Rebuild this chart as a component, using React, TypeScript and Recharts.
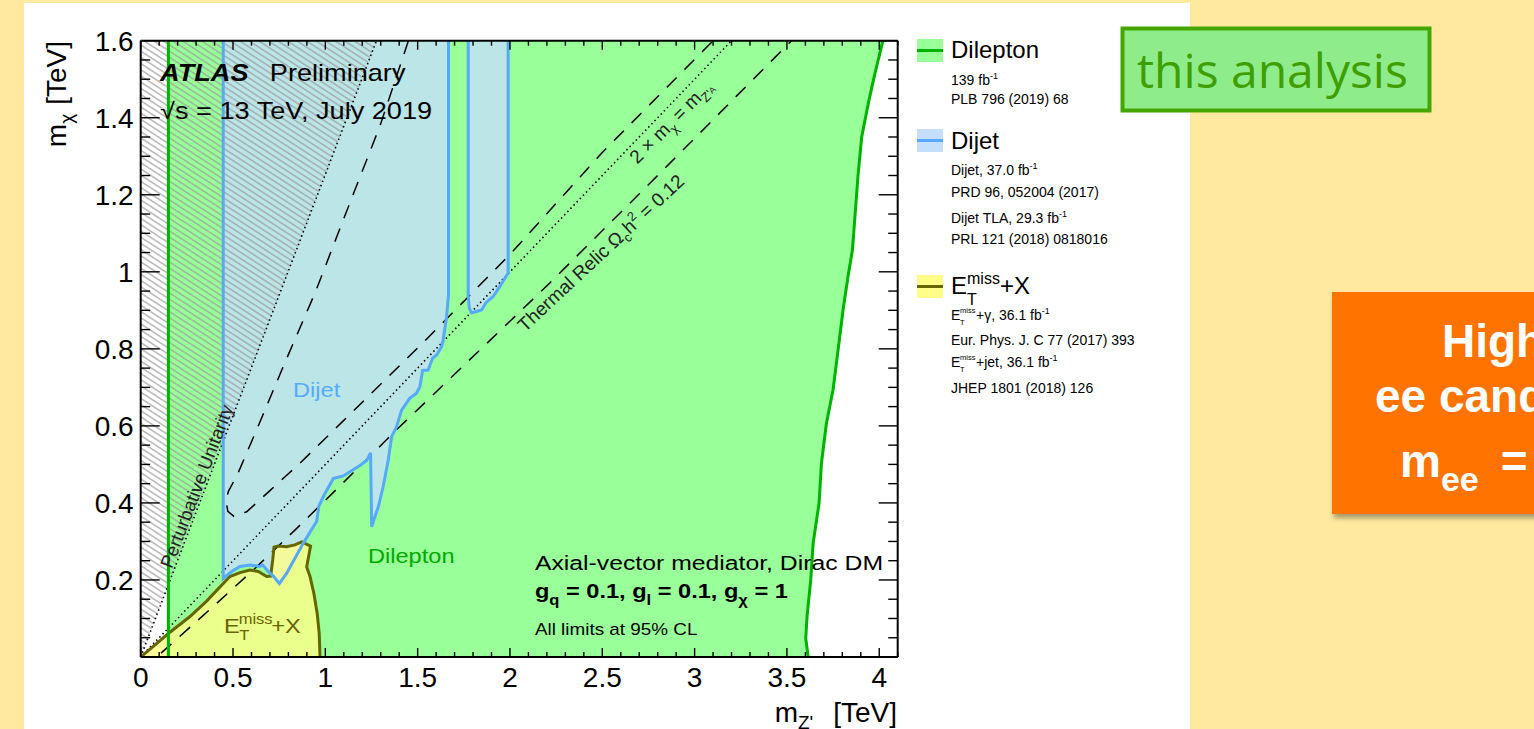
import React from "react";
import { ComposedChart, Area, Line, XAxis, YAxis, ReferenceDot } from "recharts";

type Pt = [number, number];

const FONT = '"Liberation Sans", Arial, Helvetica, sans-serif';
const X_MAX = 4.1;
const Y_MAX = 1.6;
const SX = 1.18; // the plot text is drawn slightly wide

const xLabels = [0, 0.5, 1, 1.5, 2, 2.5, 3, 3.5, 4];
const yLabels = [0.2, 0.4, 0.6, 0.8, 1, 1.2, 1.4, 1.6];
const xTicks = Array.from({ length: 42 }, (_, i) => i / 10);
const yTicks = Array.from({ length: 33 }, (_, i) => i / 20);

// dilepton: vertical low-mass edge and the high-mass reach (m_Z', m_chi) in TeV
const dileptonLowEdge: Pt[] = [[0.15, 0], [0.15, 1.6]];
const dileptonHighEdge: Pt[] = [
  [3.615, 0], [3.602, 0.048], [3.609, 0.105], [3.629, 0.2], [3.642, 0.295], [3.674, 0.399],
  [3.687, 0.503], [3.714, 0.607], [3.75, 0.694], [3.777, 0.797], [3.804, 0.901], [3.831, 0.988],
  [3.855, 1.057], [3.885, 1.25], [3.905, 1.35], [3.941, 1.438], [3.977, 1.516], [4.02, 1.6],
];

// dijet contours, outline order
const dijetLowMass: Pt[] = [
  [0.447, 1.6], [0.447, 0.204], [0.493, 0.222], [0.538, 0.235], [0.592, 0.239], [0.646, 0.235],
  [0.66, 0.239], [0.691, 0.222], [0.718, 0.21], [0.751, 0.191], [0.79, 0.217], [0.845, 0.265],
  [0.88, 0.295], [0.908, 0.317], [0.935, 0.338], [0.953, 0.352], [0.965, 0.392], [0.995, 0.422],
  [1.043, 0.463], [1.097, 0.47], [1.187, 0.497], [1.224, 0.51], [1.245, 0.53], [1.251, 0.338],
  [1.262, 0.355], [1.287, 0.39], [1.313, 0.442], [1.341, 0.512], [1.359, 0.572], [1.386, 0.598],
  [1.413, 0.641], [1.458, 0.672], [1.494, 0.685], [1.512, 0.702], [1.527, 0.744], [1.557, 0.745],
  [1.581, 0.776], [1.603, 0.784], [1.63, 0.806], [1.638, 0.823], [1.657, 0.884], [1.667, 0.94],
  [1.667, 1.6],
];
const dijetHighMass: Pt[] = [
  [1.774, 1.6], [1.774, 0.936], [1.78, 0.905], [1.792, 0.893], [1.846, 0.901], [1.87, 0.92],
  [1.909, 0.936], [1.945, 0.962], [1.99, 0.997], [1.99, 1.6],
];

// ETmiss+X contour
const etmiss: Pt[] = [
  [0, 0], [0.15, 0.061], [0.267, 0.105], [0.357, 0.145], [0.483, 0.209], [0.538, 0.219],
  [0.592, 0.226], [0.637, 0.222], [0.682, 0.209], [0.704, 0.21], [0.715, 0.252], [0.722, 0.285],
  [0.745, 0.288], [0.79, 0.286], [0.835, 0.291], [0.872, 0.299], [0.92, 0.288], [0.899, 0.234],
  [0.917, 0.209], [0.938, 0.165], [0.956, 0.113], [0.967, 0.061], [0.971, 0],
];

// thermal relic curves and reference lines
const relicUpper: Pt[] = [
  [1.45, 1.6], [1.296, 1.379], [1.15, 1.2], [0.944, 0.945], [0.772, 0.754], [0.628, 0.59],
  [0.525, 0.475], [0.475, 0.43], [0.462, 0.405], [0.472, 0.378], [0.505, 0.365], [0.574, 0.377],
  [0.7, 0.432], [0.862, 0.503], [1.097, 0.613], [1.548, 0.825], [2.0, 1.045], [2.5, 1.31], [3.1, 1.6],
];
const relicLower: Pt[] = [
  [0.11, 0.01], [0.411, 0.139], [0.628, 0.234], [0.845, 0.334], [1.079, 0.444], [1.386, 0.59],
  [1.8, 0.78], [2.216, 0.971], [2.8, 1.25], [3.525, 1.6],
];
const halfMass: Pt[] = [[0, 0], [3.2, 1.6]];
const unitarity: Pt[] = [[0, 0], [1.277, 1.6]];

const asPoints = (pts: Pt[]) => pts.map(([x, y]) => ({ x, y }));
const bandAbove = (pts: Pt[]) => pts.map(([x, y]) => ({ x, band: [y, Y_MAX] }));
const bandBelow = (pts: Pt[]) => pts.map(([x, y]) => ({ x, band: [0, y] }));

const isLabel = (list: number[], v: number) => list.some((l) => Math.abs(l - v) < 1e-6);

// tick props arrive with x/y on the axis line (tickSize and tickMargin are 0)
const XTick = ({ x, y, payload, dir, labelled }: any) => {
  const v = payload.value;
  const major = isLabel(xLabels, v);
  return (
    <g>
      <line x1={x} x2={x} y1={y} y2={y + dir * (major ? 9 : 5)} stroke="#000" strokeWidth={1.4} />
      {labelled && major && (
        <text x={x} y={y + 30} textAnchor="middle" fontSize={28} fill="#000">{String(v)}</text>
      )}
    </g>
  );
};

const YTick = ({ x, y, payload, dir, labelled }: any) => {
  const v = payload.value;
  const major = Math.abs(v * 5 - Math.round(v * 5)) < 1e-6;
  return (
    <g>
      <line x1={x} x2={x + dir * (major ? 19 : 9.5)} y1={y} y2={y} stroke="#000" strokeWidth={1.4} />
      {labelled && isLabel(yLabels, v) && (
        <text x={x - 7} y={y + 10} textAnchor="end" fontSize={28} fill="#000">{String(+v.toFixed(1))}</text>
      )}
    </g>
  );
};

const note = (x: number, y: number, content: React.ReactNode) => (
  <ReferenceDot
    x={x}
    y={y}
    r={0}
    ifOverflow="visible"
    shape={(p: any) => <g transform={`translate(${p.cx},${p.cy})`} style={{ whiteSpace: "pre" }}>{content}</g>}
  />
);

const frame = { stroke: "#000", strokeWidth: 2 };

const LimitPlot = () => (
  <ComposedChart width={1190} height={729} margin={{ top: 39.7, right: 291.3, bottom: 71, left: 139.7 }}>
    <defs>
      <pattern id="unitarityHatch" patternUnits="userSpaceOnUse" width={10} height={5.2} patternTransform="rotate(33)">
        <line x1={0} y1={2.6} x2={10} y2={2.6} stroke="#999" strokeWidth={1.1} />
      </pattern>
    </defs>

    <Area data={bandAbove([dileptonLowEdge[0], ...dileptonHighEdge])} dataKey="band" type="linear"
      stroke="none" fill="#99ff99" fillOpacity={1} dot={false} activeDot={false} isAnimationActive={false} />
    <Area data={bandAbove(dijetLowMass)} dataKey="band" type="linear"
      stroke="none" fill="#bce5e8" fillOpacity={1} dot={false} activeDot={false} isAnimationActive={false} />
    <Area data={bandAbove(dijetHighMass)} dataKey="band" type="linear"
      stroke="none" fill="#bce5e8" fillOpacity={1} dot={false} activeDot={false} isAnimationActive={false} />
    <Area data={bandAbove(unitarity)} dataKey="band" type="linear"
      stroke="none" fill="url(#unitarityHatch)" fillOpacity={1} dot={false} activeDot={false} isAnimationActive={false} />
    <Area data={bandBelow(etmiss)} dataKey="band" type="linear"
      stroke="none" fill="#ffff88" fillOpacity={0.8} dot={false} activeDot={false} isAnimationActive={false} />

    <Line data={asPoints(relicUpper)} dataKey="y" type="linear" stroke="#000" strokeWidth={1.5}
      strokeDasharray="14 11" dot={false} activeDot={false} isAnimationActive={false} />
    <Line data={asPoints(relicLower)} dataKey="y" type="linear" stroke="#000" strokeWidth={1.5}
      strokeDasharray="14 11" dot={false} activeDot={false} isAnimationActive={false} />
    <Line data={asPoints(halfMass)} dataKey="y" type="linear" stroke="#000" strokeWidth={1.6}
      strokeDasharray="1.5 3" dot={false} activeDot={false} isAnimationActive={false} />
    <Line data={asPoints(unitarity)} dataKey="y" type="linear" stroke="#000" strokeWidth={1.6}
      strokeDasharray="1.5 3" dot={false} activeDot={false} isAnimationActive={false} />

    <Line data={asPoints(etmiss)} dataKey="y" type="linear" stroke="#666600" strokeWidth={3}
      dot={false} activeDot={false} isAnimationActive={false} />
    <Line data={asPoints(dijetLowMass)} dataKey="y" type="linear" stroke="#57a8ff" strokeWidth={3}
      dot={false} activeDot={false} isAnimationActive={false} />
    <Line data={asPoints(dijetHighMass)} dataKey="y" type="linear" stroke="#57a8ff" strokeWidth={3}
      dot={false} activeDot={false} isAnimationActive={false} />
    <Line data={asPoints(dileptonLowEdge)} dataKey="y" type="linear" stroke="#00b300" strokeWidth={3}
      dot={false} activeDot={false} isAnimationActive={false} />
    <Line data={asPoints(dileptonHighEdge)} dataKey="y" type="linear" stroke="#00b300" strokeWidth={3}
      dot={false} activeDot={false} isAnimationActive={false} />

    {/* keeps the top and right axes tied to the same range */}
    <Line data={[{ x: 0, y: 0 }, { x: X_MAX, y: Y_MAX }]} xAxisId="top" yAxisId="right" dataKey="y"
      stroke="none" dot={false} activeDot={false} isAnimationActive={false} />

    <XAxis xAxisId={0} type="number" dataKey="x" domain={[0, X_MAX]} allowDataOverflow ticks={xTicks}
      interval={0} height={1} tickSize={0} tickMargin={0} tickLine={false} axisLine={frame}
      tick={(p: any) => <XTick {...p} dir={-1} labelled />} />
    <XAxis xAxisId="top" orientation="top" type="number" dataKey="x" domain={[0, X_MAX]} allowDataOverflow
      ticks={xTicks} interval={0} height={1} tickSize={0} tickMargin={0} tickLine={false} axisLine={frame}
      tick={(p: any) => <XTick {...p} dir={1} />} />
    <YAxis yAxisId={0} type="number" domain={[0, Y_MAX]} allowDataOverflow ticks={yTicks} interval={0}
      width={1} tickSize={0} tickMargin={0} tickLine={false} axisLine={frame}
      tick={(p: any) => <YTick {...p} dir={1} labelled />} />
    <YAxis yAxisId="right" orientation="right" type="number" domain={[0, Y_MAX]} allowDataOverflow
      ticks={yTicks} interval={0} width={1} tickSize={0} tickMargin={0} tickLine={false} axisLine={frame}
      tick={(p: any) => <YTick {...p} dir={-1} />} />

    {note(0.105, 1.496,
      <g transform={`scale(${SX},1)`} fontSize={23} fill="#000">
        <text fontWeight="bold" fontStyle="italic">ATLAS</text>
        <text x={93}>Preliminary</text>
      </g>)}
    {note(0.105, 1.397,
      <g transform={`scale(${SX},1)`} fontSize={23} fill="#000">
        <text>√s = 13 TeV, July 2019</text>
      </g>)}
    {note(0.825, 0.676,
      <g transform={`scale(${SX},1)`}><text fontSize={20} fill="#55aaff">Dijet</text></g>)}
    {note(1.231, 0.243,
      <g transform={`scale(${SX},1)`}><text fontSize={20} fill="#00aa00">Dilepton</text></g>)}
    {note(0.451, 0.063,
      <g transform={`scale(${SX},1)`} fill="#666600">
        <text fontSize={20}>E</text>
        <text x={12.5} y={-9} fontSize={14}>miss</text>
        <text x={13} y={7} fontSize={14}>T</text>
        <text x={40} fontSize={20}>+X</text>
      </g>)}
    {note(2.135, 0.226,
      <g transform={`scale(${SX},1)`} fill="#000">
        <text fontSize={21}>Axial-vector mediator, Dirac DM</text>
        <text y={28.3} fontSize={20} fontWeight="bold">
          g<tspan fontSize={14} dy={7}>q</tspan><tspan dy={-7}>{" = 0.1, g"}</tspan>
          <tspan fontSize={14} dy={7}>l</tspan><tspan dy={-7}>{" = 0.1, g"}</tspan>
          <tspan fontSize={14} dy={7}>χ</tspan><tspan dy={-7}>{" = 1"}</tspan>
        </text>
        <text y={65} fontSize={16}>All limits at 95% CL</text>
      </g>)}
    {note(0.168, 0.228,
      <text transform="rotate(-69)" fontSize={18.5} fill="#222">Perturbative Unitarity</text>)}
    {note(2.081, 0.842,
      <text transform="rotate(-43)" fontSize={19} fill="#222">
        {"Thermal Relic Ω"}<tspan fontSize={13} dy={5}>c</tspan><tspan dy={-5}>h</tspan>
        <tspan fontSize={13} dy={-8}>2</tspan><tspan dy={8}>{" = 0.12"}</tspan>
      </text>)}
    {note(2.69, 1.278,
      <text transform="rotate(-45)" fontSize={19} fill="#222">
        {"2 × m"}<tspan fontSize={13} dy={5}>χ</tspan><tspan dy={-5}>{" = m"}</tspan>
        <tspan fontSize={13} dy={5}>Z'</tspan><tspan fontSize={9} dy={-2}>A</tspan>
      </text>)}
  </ComposedChart>
);

const Sup = ({ children }: any) => <tspan fontSize={9} dy={-6}>{children}</tspan>;

const Overlay = () => (
  <svg width={1534} height={729} style={{ position: "absolute", left: 0, top: 0, pointerEvents: "none", whiteSpace: "pre" }}
    fontFamily={FONT}>
    <defs>
      <filter id="boxShadow" x="-10%" y="-10%" width="130%" height="130%">
        <feDropShadow dx={2} dy={4} stdDeviation={2.5} floodColor="#000" floodOpacity={0.35} />
      </filter>
    </defs>

    {/* axis titles */}
    <text x={897} y={722} textAnchor="end" fontSize={28} fill="#000">
      m<tspan fontSize={19} dy={7}>Z'</tspan><tspan dx={20} dy={-7}>[TeV]</tspan>
    </text>
    <text transform="translate(66,41) rotate(-90)" textAnchor="end" fontSize={28} fill="#000">
      m<tspan fontSize={19} dy={7}>χ</tspan><tspan dx={9} dy={-7}>[TeV]</tspan>
    </text>

    {/* legend */}
    <rect x={917} y={39} width={26} height={23} fill="#99ff99" />
    <line x1={917} x2={943} y1={50.5} y2={50.5} stroke="#00b300" strokeWidth={3} />
    <text x={951} y={58} fontSize={24}>Dilepton</text>
    <text x={951} y={85} fontSize={14}>139 fb<Sup>-1</Sup></text>
    <text x={951} y={104} fontSize={14}>PLB 796 (2019) 68</text>

    <rect x={917} y={129} width={26} height={23} fill="#c4defb" />
    <line x1={917} x2={943} y1={140.5} y2={140.5} stroke="#57a8ff" strokeWidth={3} />
    <text x={951} y={149} fontSize={24}>Dijet</text>
    <text x={951} y={175} fontSize={14}>Dijet, 37.0 fb<Sup>-1</Sup></text>
    <text x={951} y={197} fontSize={14}>PRD 96, 052004 (2017)</text>
    <text x={951} y={223} fontSize={14}>Dijet TLA, 29.3 fb<Sup>-1</Sup></text>
    <text x={951} y={244} fontSize={14}>PRL 121 (2018) 0818016</text>

    <rect x={917} y={275} width={26} height={23} fill="#ffff88" />
    <line x1={917} x2={943} y1={286.5} y2={286.5} stroke="#666600" strokeWidth={3} />
    <text x={951} y={294} fontSize={24}>E</text>
    <text x={967} y={284} fontSize={16}>miss</text>
    <text x={967} y={305} fontSize={16}>T</text>
    <text x={1000} y={294} fontSize={24}>+X</text>
    <text x={951} y={320} fontSize={14}>E</text>
    <text x={960} y={313} fontSize={7.5}>miss</text>
    <text x={960} y={325} fontSize={7.5}>T</text>
    <text x={976} y={320} fontSize={14}>+γ, 36.1 fb<Sup>-1</Sup></text>
    <text x={951} y={345} fontSize={14}>Eur. Phys. J. C 77 (2017) 393</text>
    <text x={951} y={367} fontSize={14}>E</text>
    <text x={960} y={360} fontSize={7.5}>miss</text>
    <text x={960} y={372} fontSize={7.5}>T</text>
    <text x={976} y={367} fontSize={14}>+jet, 36.1 fb<Sup>-1</Sup></text>
    <text x={951} y={393} fontSize={14}>JHEP 1801 (2018) 126</text>

    {/* tag next to the legend */}
    <rect x={1122.5} y={28.5} width={307} height={82} fill="#8fec8a" stroke="#44a600" strokeWidth={4} />
    <text x={1137} y={88} fontFamily='"Open Sans", sans-serif' fontSize={48} fill="#3f9f00">this analysis</text>

    {/* event call-out */}
    <rect x={1332} y={292} width={240} height={222} fill="#ff7300" filter="url(#boxShadow)" />
    <g fill="#fff" fontWeight="bold" fontSize={46}>
      <text x={1442} y={357}>Highest mass</text>
      <text x={1375} y={412}>ee candidate</text>
      <text x={1400} y={477}>m<tspan fontSize={34} dy={14}>ee</tspan><tspan dx={22} dy={-14}>= 4.06 TeV</tspan></text>
    </g>
  </svg>
);

export default function App() {
  return (
    <div style={{ position: "absolute", left: 0, top: 0, width: 1534, height: 729, overflow: "hidden",
      background: "#ffe99f", fontFamily: FONT }}>
      <div style={{ position: "absolute", left: 24, top: 3, width: 1166, height: 726, background: "#fff" }} />
      <div style={{ position: "absolute", left: 0, top: 0 }}>
        <LimitPlot />
      </div>
      <Overlay />
    </div>
  );
}
